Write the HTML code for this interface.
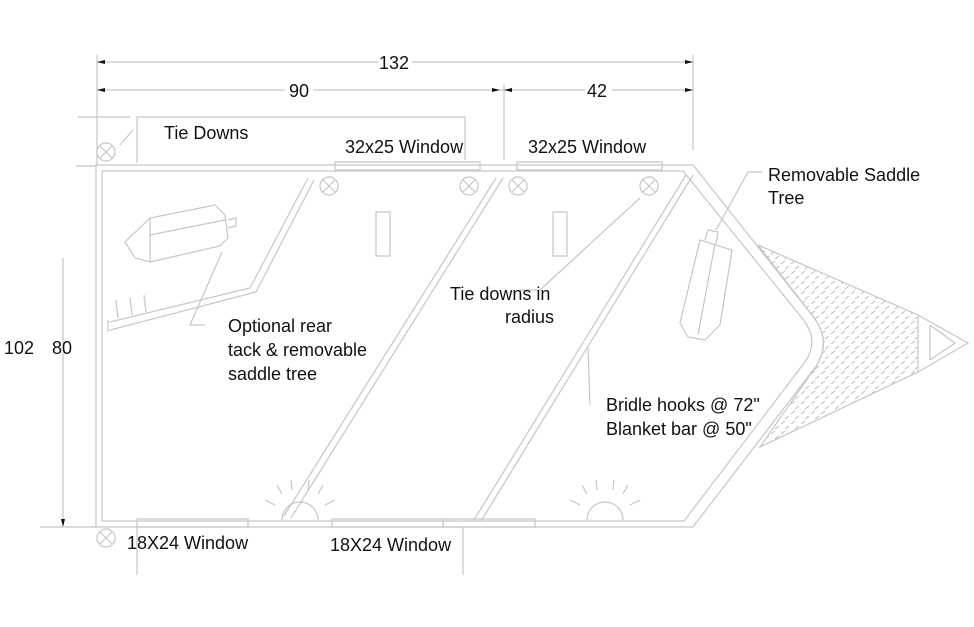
<!DOCTYPE html>
<html><head><style>
html,body{margin:0;padding:0;background:#fff;}
svg{display:block;font-family:"Liberation Sans",sans-serif;}
text{fill:#111;font-size:18px;}
</style></head><body>
<svg width="974" height="627" viewBox="0 0 974 627" xmlns="http://www.w3.org/2000/svg">
<defs>
<pattern id="dp" width="10" height="10" patternUnits="userSpaceOnUse">
<path d="M1 4 L5 1 M5 9 L9 6" stroke="#bbb" stroke-width="1"/>
</pattern>
</defs>
<g stroke="#c6c6c6" stroke-width="1.2" fill="none">
<line x1="97" y1="62" x2="378" y2="62"/><line x1="412" y1="62" x2="693" y2="62"/>
<line x1="97" y1="90" x2="285" y2="90"/><line x1="313" y1="90" x2="500" y2="90"/>
<line x1="500" y1="90" x2="585" y2="90"/><line x1="612" y1="90" x2="693" y2="90"/>
<line x1="97" y1="55" x2="97" y2="165"/><line x1="693" y1="55" x2="693" y2="150"/><line x1="504" y1="85" x2="504" y2="160"/>
<line x1="78" y1="117" x2="130" y2="117"/>
<polyline points="137,163 137,117 465,117 465,160"/>
<line x1="76" y1="166" x2="97" y2="166"/>
<path d="M96 165 L693 165 L812 315 Q832 340 817 365 L693 527 L96 527 Z"/>
<path d="M102 171 L683 171 L802 318 Q820 340 805 362 L684 521 L102 521 Z"/>
<rect x="335" y="162" width="145" height="8"/><rect x="517" y="162" width="145" height="8"/>
<rect x="137" y="519" width="111" height="8"/><rect x="332" y="519" width="111" height="8"/>
<rect x="443" y="519" width="92" height="8"/>
<line x1="137" y1="527" x2="137" y2="575"/><line x1="463" y1="527" x2="463" y2="575"/>
<line x1="63" y1="258" x2="63" y2="524"/><line x1="40" y1="527" x2="96" y2="527"/>
<polyline points="308,178 250,288 110,322"/>
<polyline points="314,180 256,292 110,330"/>
<line x1="108" y1="320" x2="108" y2="332"/>
<line x1="118" y1="318" x2="116" y2="300"/><line x1="132" y1="315" x2="130" y2="298"/><line x1="146" y1="312" x2="144" y2="295"/>
<line x1="496" y1="178" x2="284" y2="516"/><line x1="503" y1="178" x2="291" y2="518"/>
<line x1="686" y1="175" x2="474" y2="520"/><line x1="693" y1="175" x2="481" y2="521"/>
<polyline points="640,198 540,290 520,290"/>
<line x1="588" y1="348" x2="590" y2="405"/>
<polyline points="205,325 190,325 222,252"/>
<polyline points="763,172 748,172 716,230"/>
<polyline points="133,130 120,145"/>
<g>
<circle cx="106" cy="152" r="9"/><path d="M100 146 L112 158 M112 146 L100 158"/>
<circle cx="106" cy="538" r="9"/><path d="M100 532 L112 544 M112 532 L100 544"/>
<circle cx="329" cy="186" r="9"/><path d="M323 180 L335 192 M335 180 L323 192"/>
<circle cx="469" cy="186" r="9"/><path d="M463 180 L475 192 M475 180 L463 192"/>
<circle cx="518" cy="186" r="9"/><path d="M512 180 L524 192 M524 180 L512 192"/>
<circle cx="649" cy="186" r="9"/><path d="M643 180 L655 192 M655 180 L643 192"/>
</g>
<rect x="376" y="212" width="14" height="44"/><rect x="553" y="212" width="14" height="44"/>
<path d="M282 520 A18 18 0 0 1 318 520"/>
<path d="M275 505 L265 500 M282 494 L277 485 M292 490 L291 480 M308 490 L309 480 M318 494 L323 485 M325 505 L335 500"/>
<path d="M587 520 A18 18 0 0 1 623 520"/>
<path d="M580 505 L570 500 M587 494 L582 485 M597 490 L596 480 M613 490 L614 480 M623 494 L628 485 M630 505 L640 500"/>
<path d="M125 242 L150 218 L215 205 L225 215 L228 238 L220 246 L150 262 L135 258 Z"/>
<path d="M150 218 L150 262 M150 235 L225 220 M228 220 L236 218 L236 226 L228 228"/>
<path d="M700 240 L732 250 L720 325 L705 340 L688 337 L680 323 Z"/>
<path d="M715 244 L698 335 M705 240 L708 230 L718 232 L716 244"/>
<path d="M758 245 L918 315 L918 372 L760 447 L817 365 Q832 340 812 315 Z" fill="url(#dp)"/>
<polyline points="918,315 968,343 918,372"/>
<line x1="930" y1="325" x2="930" y2="360"/><line x1="930" y1="325" x2="955" y2="343"/><line x1="930" y1="360" x2="955" y2="343"/>
</g>
<g fill="#111">
<path d="M97 62 l8 -2 v4 z M693 62 l-8 -2 v4 z M97 90 l8 -2 v4 z M500 90 l-8 -2 v4 z M504 90 l8 -2 v4 z M693 90 l-8 -2 v4 z M63 527 l-2 -8 h4 z"/>
</g>
<text x="379" y="69">132</text>
<text x="289" y="97">90</text>
<text x="587" y="97">42</text>
<text x="164" y="139">Tie Downs</text>
<text x="345" y="153">32x25 Window</text>
<text x="528" y="153">32x25 Window</text>
<text x="768" y="181">Removable Saddle</text>
<text x="768" y="204">Tree</text>
<text x="450" y="300">Tie downs in</text>
<text x="505" y="323">radius</text>
<text x="228" y="332">Optional rear</text>
<text x="228" y="356">tack &amp; removable</text>
<text x="228" y="380">saddle tree</text>
<text x="606" y="411">Bridle hooks @ 72"</text>
<text x="606" y="435">Blanket bar @ 50"</text>
<text x="4" y="354">102</text>
<text x="52" y="354">80</text>
<text x="127" y="549">18X24 Window</text>
<text x="330" y="551">18X24 Window</text>
</svg>
</body></html>
